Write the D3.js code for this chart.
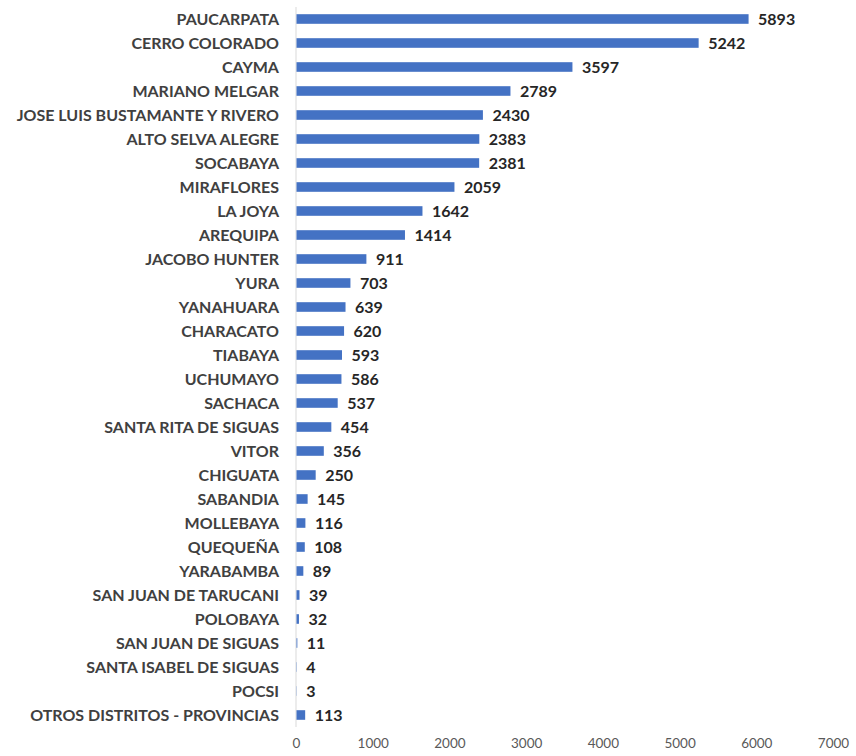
<!DOCTYPE html>
<html>
<head>
<meta charset="utf-8">
<script src="https://cdn.jsdelivr.net/npm/d3@7"></script>
<style>
  html, body { margin: 0; padding: 0; background: #fff; }
  svg { display: block; }
</style>
</head>
<body>
<svg id="chart" width="856" height="756"></svg>
<script>
// Districts, top to bottom
const districts = [
  "PAUCARPATA", "CERRO COLORADO", "CAYMA", "MARIANO MELGAR",
  "JOSE LUIS BUSTAMANTE Y RIVERO", "ALTO SELVA ALEGRE", "SOCABAYA",
  "MIRAFLORES", "LA JOYA", "AREQUIPA", "JACOBO HUNTER", "YURA",
  "YANAHUARA", "CHARACATO", "TIABAYA", "UCHUMAYO", "SACHACA",
  "SANTA RITA DE SIGUAS", "VITOR", "CHIGUATA", "SABANDIA", "MOLLEBAYA",
  "QUEQUEÑA", "YARABAMBA", "SAN JUAN DE TARUCANI", "POLOBAYA",
  "SAN JUAN DE SIGUAS", "SANTA ISABEL DE SIGUAS", "POCSI",
  "OTROS DISTRITOS - PROVINCIAS"
];
// Count per district
const counts = [
  5893, 5242, 3597, 2789, 2430, 2383, 2381, 2059, 1642, 1414, 911, 703,
  639, 620, 593, 586, 537, 454, 356, 250, 145, 116, 108, 89, 39, 32,
  11, 4, 3, 113
];
// Value axis ticks
const xTicks = [0, 1000, 2000, 3000, 4000, 5000, 6000, 7000];

const rows = districts.map((d, i) => ({ name: d, value: counts[i] }));

const svg = d3.select("#chart");
const fontFamily = "Lato, 'Open Sans', sans-serif";

const x = d3.scaleLinear().domain([0, 7000]).range([296, 833]);
const y = d3.scaleBand()
  .domain(districts)
  .range([7, 727])
  .paddingInner(0.6)
  .paddingOuter(0.3);

// Category axis line
svg.append("line")
  .attr("x1", x(0)).attr("x2", x(0))
  .attr("y1", 7).attr("y2", 727)
  .attr("stroke", "#d9d9d9")
  .attr("stroke-width", 1);

// Bars
svg.append("g")
  .selectAll("rect")
  .data(rows)
  .join("rect")
  .attr("x", x(0) + 0.5)
  .attr("y", d => y(d.name))
  .attr("width", d => Math.max(0, x(d.value) - x(0)))
  .attr("height", y.bandwidth())
  .attr("fill", "#4472C4");

// Category labels
svg.append("g")
  .selectAll("text")
  .data(rows)
  .join("text")
  .attr("x", x(0) - 17)
  .attr("y", d => y(d.name) + y.bandwidth() / 2)
  .attr("dy", "0.36em")
  .attr("text-anchor", "end")
  .attr("font-family", fontFamily)
  .attr("font-weight", "bold")
  .attr("font-size", 16)
  .attr("fill", "#404040")
  .text(d => d.name);

// Value labels
svg.append("g")
  .selectAll("text")
  .data(rows)
  .join("text")
  .attr("x", d => x(d.value) + 10)
  .attr("y", d => y(d.name) + y.bandwidth() / 2)
  .attr("dy", "0.36em")
  .attr("font-family", fontFamily)
  .attr("font-weight", "bold")
  .attr("font-size", 16)
  .attr("fill", "#262626")
  .text(d => d.value);

// Value axis tick labels
const xAxis = d3.axisBottom(x).tickValues(xTicks).tickSize(0).tickPadding(0).tickFormat(d3.format("d"));
const gx = svg.append("g").attr("transform", "translate(0,738)").call(xAxis);
gx.select(".domain").remove();
gx.selectAll("text")
  .attr("font-family", fontFamily)
  .attr("font-size", 13.5)
  .attr("fill", "#595959");
</script>
</body>
</html>
